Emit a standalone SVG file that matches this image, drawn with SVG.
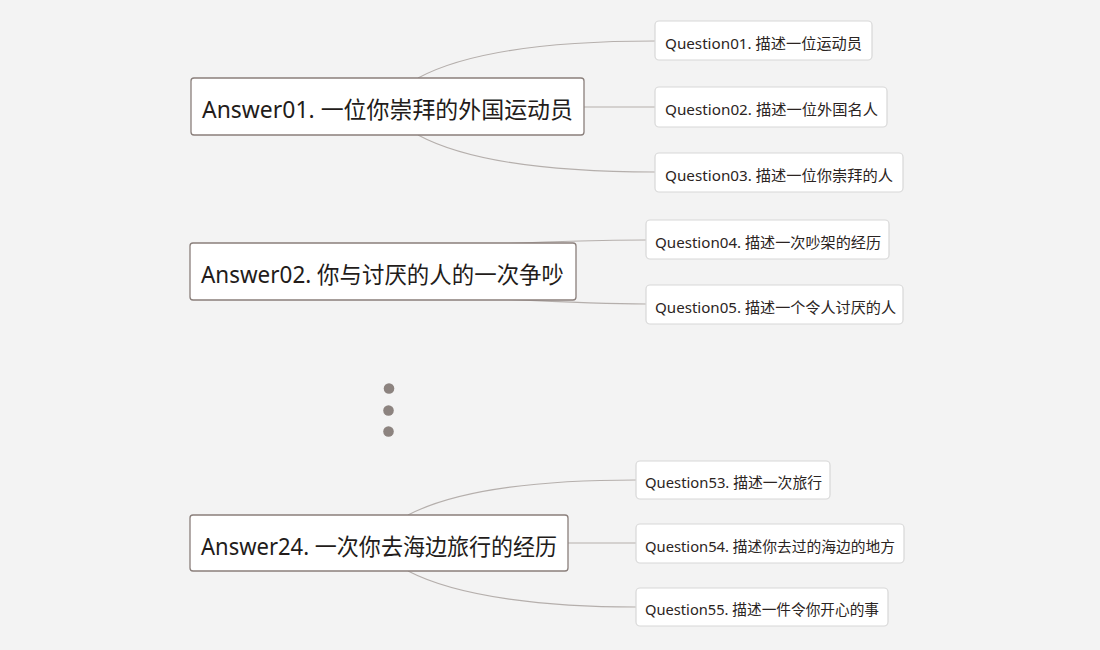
<svg xmlns="http://www.w3.org/2000/svg" width="1100" height="650" viewBox="0 0 1100 650">
<style>
.bg{fill:#f3f3f3}
.ans rect{fill:#ffffff;stroke:#8a7f7b;stroke-width:1.3}
.q rect{fill:#ffffff;stroke:#d8d8d8;stroke-width:1.2}
.ans text{font-family:"Noto Sans","Noto Sans CJK SC",sans-serif;font-size:23px;fill:#231c1a}
.q text{font-family:"Noto Sans","Noto Sans CJK SC",sans-serif;font-size:15px;fill:#2b2422}
.conn path{fill:none;stroke:#b5afac;stroke-width:1.1}
.dot{fill:#8c837f}
</style>
<rect class="bg" x="0" y="0" width="1100" height="650"/>
<g id="connectors" class="conn">
<path d="M418,78 C470,50 560,41 655,41"/>
<path d="M584,107 L655,107"/>
<path d="M418,135 C470,163 560,172 655,172"/>
<path d="M500,244 C560,241 600,240 646,240"/>
<path d="M500,299 C560,302 600,304 646,304"/>
<path d="M408,515 C460,488 550,480 636,480"/>
<path d="M568,543 L636,543"/>
<path d="M408,571 C460,598 550,607 636,607"/>
</g>
<g id="answer01" class="ans"><rect x="191" y="78" width="393" height="57" rx="3"/><text x="202" y="118" textLength="371" lengthAdjust="spacingAndGlyphs">Answer01. 一位你崇拜的外国运动员</text></g>
<g id="answer02" class="ans"><rect x="190" y="243" width="386" height="57" rx="3"/><text x="201" y="283" textLength="363" lengthAdjust="spacingAndGlyphs">Answer02. 你与讨厌的人的一次争吵</text></g>
<g id="answer24" class="ans"><rect x="190" y="515" width="378" height="56" rx="3"/><text x="201" y="555" textLength="356" lengthAdjust="spacingAndGlyphs">Answer24. 一次你去海边旅行的经历</text></g>
<g id="question01" class="q"><rect x="655" y="21" width="217" height="39" rx="4"/><text x="665" y="49" textLength="197" lengthAdjust="spacingAndGlyphs">Question01. 描述一位运动员</text></g>
<g id="question02" class="q"><rect x="655" y="87" width="232" height="40" rx="4"/><text x="665" y="115" textLength="213" lengthAdjust="spacingAndGlyphs">Question02. 描述一位外国名人</text></g>
<g id="question03" class="q"><rect x="655" y="153" width="248" height="39" rx="4"/><text x="665" y="181" textLength="228" lengthAdjust="spacingAndGlyphs">Question03. 描述一位你崇拜的人</text></g>
<g id="question04" class="q"><rect x="646" y="220" width="243" height="39" rx="4"/><text x="655" y="248" textLength="226" lengthAdjust="spacingAndGlyphs">Question04. 描述一次吵架的经历</text></g>
<g id="question05" class="q"><rect x="646" y="285" width="257" height="39" rx="4"/><text x="655" y="313" textLength="241" lengthAdjust="spacingAndGlyphs">Question05. 描述一个令人讨厌的人</text></g>
<g id="question53" class="q"><rect x="636" y="461" width="194" height="38" rx="4"/><text x="645" y="488" textLength="177" lengthAdjust="spacingAndGlyphs">Question53. 描述一次旅行</text></g>
<g id="question54" class="q"><rect x="636" y="524" width="268" height="39" rx="4"/><text x="645" y="552" textLength="250" lengthAdjust="spacingAndGlyphs">Question54. 描述你去过的海边的地方</text></g>
<g id="question55" class="q"><rect x="636" y="588" width="252" height="38" rx="4"/><text x="645" y="615" textLength="234" lengthAdjust="spacingAndGlyphs">Question55. 描述一件令你开心的事</text></g>
<g id="ellipsis">
<circle class="dot" cx="389" cy="388.5" r="5.3"/>
<circle class="dot" cx="388.5" cy="410.5" r="5.3"/>
<circle class="dot" cx="388.5" cy="431.5" r="5.3"/>
</g>
</svg>
